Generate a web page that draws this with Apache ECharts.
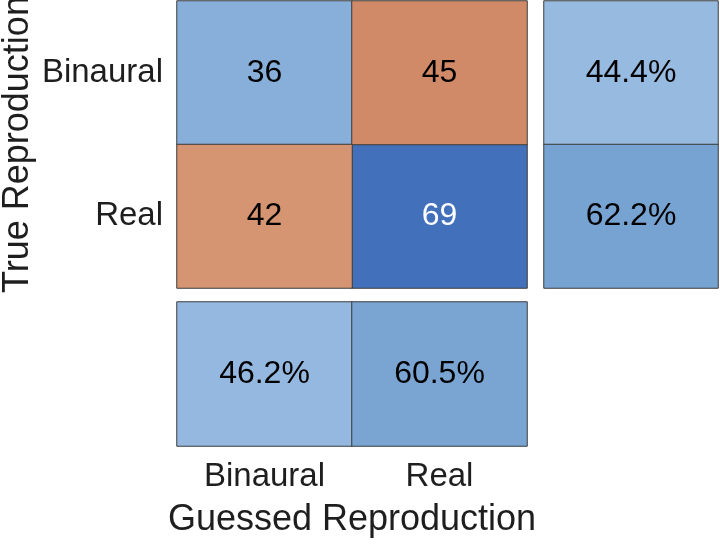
<!DOCTYPE html>
<html>
<head>
<meta charset="utf-8">
<script src="https://cdn.jsdelivr.net/npm/echarts@6/dist/echarts.min.js"></script>
<style>
html,body{margin:0;padding:0;background:#fff;}
#chart{width:720px;height:544px;}
</style>
</head>
<body>
<div id="chart"></div>
<script>
const categories = ['Binaural', 'Real'];
// rows = true class, columns = guessed class
const counts = [
  [36, 45],
  [42, 69]
];
const rowSummary = [44.4, 62.2];   // per true class (right column)
const colSummary = [46.2, 60.5];   // per guessed class (bottom row)
const xTitle = 'Guessed Reproduction';
const yTitle = 'True Reproduction';

const FONT = '"Liberation Sans", Arial, Helvetica, sans-serif';

const diagData = [], offData = [];
counts.forEach((row, r) => row.forEach((v, c) => {
  const item = { value: [c, r, v] };
  if (r === c) diagData.push(item); else offData.push(item);
}));
const diagMax = Math.max(...diagData.map(d => d.value[2]));
diagData.forEach(d => { if (d.value[2] === diagMax) d.label = { color: '#ffffff' }; });

const rowData = rowSummary.map((v, r) => [0, r, v]);
const colData = colSummary.map((v, c) => [c, 0, v]);

const cellLabel = {
  show: true, fontSize: 32, fontFamily: FONT, color: '#000'
};
const cellStyle = { borderColor: '#3d3d3d', borderWidth: 1 };
const hidden = { axisLine: { show: false }, axisTick: { show: false }, splitLine: { show: false } };

const chart = echarts.init(document.getElementById('chart'), null, { renderer: 'canvas' });
chart.setOption({
  animation: false,
  backgroundColor: '#ffffff',
  grid: [
    { left: 177, top: 1, width: 350, height: 287, containLabel: false, outerBoundsMode: 'none' },
    { left: 544, top: 1, width: 174, height: 287, containLabel: false, outerBoundsMode: 'none' },
    { left: 177, top: 302, width: 350, height: 144, containLabel: false, outerBoundsMode: 'none' }
  ],
  xAxis: [
    Object.assign({ type: 'category', gridIndex: 0, data: categories, axisLabel: { show: false } }, hidden),
    Object.assign({ type: 'category', gridIndex: 1, data: ['s'], axisLabel: { show: false } }, hidden),
    Object.assign({
      type: 'category', gridIndex: 2, data: categories,
      axisLabel: { show: true, fontSize: 33, fontFamily: FONT, color: '#1e1e1e', margin: 14 },
      name: xTitle, nameLocation: 'middle', nameGap: 56,
      nameTextStyle: { fontSize: 36, fontFamily: FONT, color: '#1e1e1e' }
    }, hidden)
  ],
  yAxis: [
    Object.assign({
      type: 'category', gridIndex: 0, data: categories, inverse: true,
      axisLabel: { show: true, fontSize: 33, fontFamily: FONT, color: '#1e1e1e', margin: 14 },
      name: yTitle, nameLocation: 'middle', nameGap: 141, nameRotate: 90,
      nameTextStyle: { fontSize: 36, fontFamily: FONT, color: '#1e1e1e' }
    }, hidden),
    Object.assign({ type: 'category', gridIndex: 1, data: categories, inverse: true, axisLabel: { show: false } }, hidden),
    Object.assign({ type: 'category', gridIndex: 2, data: ['s'], axisLabel: { show: false } }, hidden)
  ],
  visualMap: [
    { show: false, seriesIndex: 0, dimension: 2, min: 36, max: 69, inRange: { color: ['#88AFDA', '#4270BA'] } },
    { show: false, seriesIndex: 1, dimension: 2, min: 42, max: 45, inRange: { color: ['#D59472', '#D08A68'] } },
    { show: false, seriesIndex: [2, 3], dimension: 2, min: 44.4, max: 62.2, inRange: { color: ['#97BAE0', '#77A3D2'] } }
  ],
  series: [
    { type: 'heatmap', xAxisIndex: 0, yAxisIndex: 0, data: diagData, label: cellLabel, itemStyle: cellStyle, emphasis: { disabled: true } },
    { type: 'heatmap', xAxisIndex: 0, yAxisIndex: 0, data: offData, label: cellLabel, itemStyle: cellStyle, emphasis: { disabled: true } },
    { type: 'heatmap', xAxisIndex: 1, yAxisIndex: 1, data: rowData, itemStyle: cellStyle, emphasis: { disabled: true },
      label: Object.assign({}, cellLabel, { formatter: p => p.value[2].toFixed(1) + '%' }) },
    { type: 'heatmap', xAxisIndex: 2, yAxisIndex: 2, data: colData, itemStyle: cellStyle, emphasis: { disabled: true },
      label: Object.assign({}, cellLabel, { formatter: p => p.value[2].toFixed(1) + '%' }) }
  ]
});
</script>
</body>
</html>
